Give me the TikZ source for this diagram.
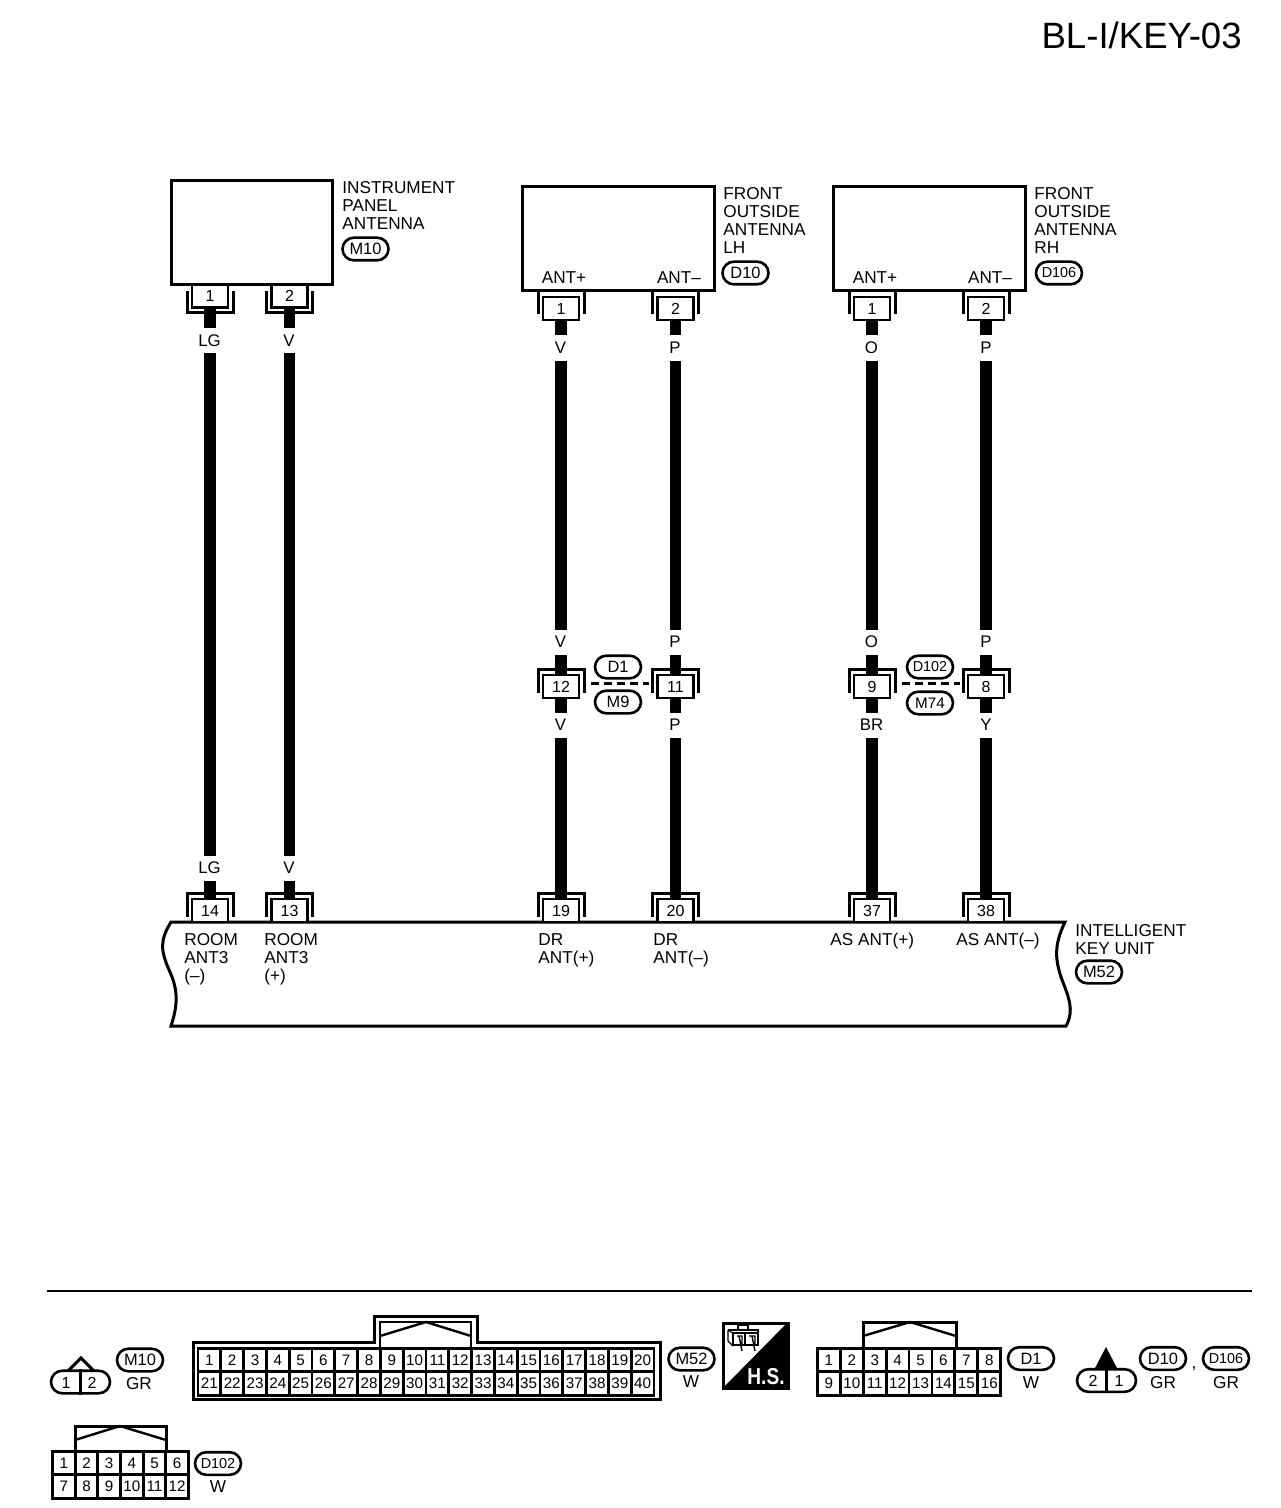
\documentclass[tikz,border=0pt]{standalone}
\usepackage{fontspec}
\setmainfont{Liberation Sans}
\usetikzlibrary{shapes.misc}
\tikzset{
  outline/.style={line width=1.5pt,line join=miter},
  thinline/.style={line width=1.2pt},
  wire/.style={line width=5.6pt},
  pinbox/.style={draw,line width=1.4pt,fill=white,inner sep=0pt,minimum width=18pt,minimum height=11.5pt,font=\fontsize{8}{9}\selectfont},
  cellbox/.style={draw,line width=1.4pt,fill=white,inner sep=0pt,minimum width=11.4pt,minimum height=11.8pt,font=\fontsize{7.6}{9}\selectfont},
  colour/.style={fill=white,inner sep=0pt,minimum width=14pt,minimum height=12.5pt,font=\fontsize{8.4}{9}\selectfont},
  lbl/.style={inner sep=0pt,anchor=north west,align=left,font=\fontsize{8.6}{9}\selectfont},
  lblc/.style={inner sep=0pt,font=\fontsize{8.6}{9}\selectfont},
  tag/.style={draw,rounded rectangle,line width=1.3pt,inner sep=0pt,minimum width=23pt,minimum height=11.3pt,font=\fontsize{8.2}{9}\selectfont},
  tagsmall/.style={tag,font=\fontsize{7.2}{9}\selectfont},
  plug/.style={draw,rounded rectangle,line width=1.3pt,inner sep=0pt,minimum width=29.5pt,minimum height=11.3pt},
  plugnum/.style={inner sep=0pt,font=\fontsize{8}{9}\selectfont},
  link/.style={line width=1.5pt,dash pattern=on 4pt off 2.4pt}
}
% pin hanging under a box, and pin with its shroud above it
\newcommand{\pindown}[4]{
  \node[pinbox] (#1) at (#2,#3) {#4};
  \draw[outline] ([shift={(-23,-5)}]#1.center) -- ++(0,22) -- ++(46,0) -- ++(0,-22);
}
\newcommand{\pinup}[4]{
  \node[pinbox] (#1) at (#2,#3) {#4};
  \draw[outline] ([shift={(-23,6)}]#1.center) -- ++(0,-23.5) -- ++(46,0) -- ++(0,23.5);
}
\begin{document}
\begin{tikzpicture}[x=0.5pt,y=-0.5pt]
\useasboundingbox (0,0) rectangle (1280,1508);
\node[inner sep=0pt,anchor=east,font=\fontsize{18.3}{20}\selectfont] (title) at (1242,35) {BL-I/KEY-03};

% antenna boxes
\node[draw,outline,minimum width=80.5pt,minimum height=52pt,inner sep=0pt] (m10box) at (251.5,233) {};
\node[draw,outline,minimum width=96pt,minimum height=52pt,inner sep=0pt] (d10box) at (618,239) {};
\node[draw,outline,minimum width=96pt,minimum height=52pt,inner sep=0pt] (d106box) at (929,239) {};
\node[lbl] (m10name) at (342,181) {INSTRUMENT\\PANEL\\ANTENNA};
\node[tag] (m10tag) at (365.5,249) {M10};
\node[lbl] (d10name) at (723,187) {FRONT\\OUTSIDE\\ANTENNA\\LH};
\node[tag] (d10tag) at (745.5,273) {D10};
\node[lbl] (d106name) at (1034,187) {FRONT\\OUTSIDE\\ANTENNA\\RH};
\node[tagsmall] (d106tag) at (1059,273) {D106};
\node[lblc] (d10plus) at (564,278) {ANT+};
\node[lblc] (d10minus) at (679,278) {ANT–};
\node[lblc] (d106plus) at (875,278) {ANT+};
\node[lblc] (d106minus) at (990,278) {ANT–};

% key unit
\draw[outline] (171,922) -- (1065,922) .. controls (1054,945) and (1054,960) .. (1064,985) .. controls (1072,1005) and (1072,1015) .. (1066,1026) -- (171,1026) .. controls (178,1005) and (178,990) .. (170,972) .. controls (160,950) and (160,940) .. (171,922) -- cycle;
\node[lbl] (m52name) at (1075,924) {INTELLIGENT\\KEY UNIT};
\node[tag] (m52tag) at (1099,972) {M52};
\node[lbl] (room1) at (184,933) {ROOM\\ANT3\\(–)};
\node[lbl] (room2) at (264,933) {ROOM\\ANT3\\(+)};
\node[lbl] (dr1) at (538,933) {DR\\ANT(+)};
\node[lbl] (dr2) at (653,933) {DR\\ANT(–)};
\node[lbl] (as1) at (830,933) {AS ANT(+)};
\node[lbl] (as2) at (956,933) {AS ANT(–)};

% pins
\pindown{a1}{210}{296}{1}
\pindown{a2}{289.5}{296}{2}
\pinup{b1}{561}{308.5}{1}
\pinup{b2}{675.5}{308.5}{2}
\pinup{c1}{872}{308.5}{1}
\pinup{c2}{986}{308.5}{2}
\pinup{j12}{561}{686.5}{12}
\pinup{j11}{675.5}{686.5}{11}
\pinup{j9}{872}{686.5}{9}
\pinup{j8}{986}{686.5}{8}
\pinup{u14}{210}{910.5}{14}
\pinup{u13}{289.5}{910.5}{13}
\pinup{u19}{561}{910.5}{19}
\pinup{u20}{675.5}{910.5}{20}
\pinup{u37}{872}{910.5}{37}
\pinup{u38}{986}{910.5}{38}

% wires
\draw[wire] (a1.south) -- (u14.north);
\draw[wire] (a2.south) -- (u13.north);
\draw[wire] (b1.south) -- (j12.north);
\draw[wire] (b2.south) -- (j11.north);
\draw[wire] (c1.south) -- (j9.north);
\draw[wire] (c2.south) -- (j8.north);
\draw[wire] (j12.south) -- (u19.north);
\draw[wire] (j11.south) -- (u20.north);
\draw[wire] (j9.south) -- (u37.north);
\draw[wire] (j8.south) -- (u38.north);

% wire colours
\node[colour] (w1) at (209.5,341) {LG};
\node[colour] (w2) at (289,341) {V};
\node[colour] (w3) at (209.5,868) {LG};
\node[colour] (w4) at (289,868) {V};
\node[colour] (w5) at (560.5,348) {V};
\node[colour] (w6) at (675,348) {P};
\node[colour] (w7) at (871.5,348) {O};
\node[colour] (w8) at (986,348) {P};
\node[colour] (w9) at (560.5,642) {V};
\node[colour] (w10) at (675,642) {P};
\node[colour] (w11) at (871.5,642) {O};
\node[colour] (w12) at (986,642) {P};
\node[colour] (w13) at (560.5,725) {V};
\node[colour] (w14) at (675,725) {P};
\node[colour] (w15) at (871.5,725) {BR};
\node[colour] (w16) at (986,725) {Y};

% junction links
\draw[link,shorten <=5.5pt,shorten >=3.5pt] ([yshift=1.5pt]j12.east) -- ([yshift=1.5pt]j11.west);
\draw[link,shorten <=5.5pt,shorten >=3.5pt] ([yshift=1.5pt]j9.east) -- ([yshift=1.5pt]j8.west);
\node[tag] (d1tag) at (618,667) {D1};
\node[tag] (m9tag) at (618,702) {M9};
\node[tagsmall] (d102tag) at (930,667) {D102};
\node[tag,font=\fontsize{7.6}{9}\selectfont] (m74tag) at (930,703) {M74};

% bottom row
\draw[line width=1pt] (47,1291) -- (1252,1291);

\draw[outline] (68,1371) -- (81,1358) -- (94,1371);
\node[plug,fill=white] (m10plug) at (80.5,1382) {};
\draw[thinline] (m10plug.north) -- (m10plug.south);
\node[plugnum] (m10n1) at (66,1382.5) {1};
\node[plugnum] (m10n2) at (92,1382.5) {2};
\node[tag] (m10key) at (140,1360) {M10};
\node[lblc] (m10col) at (139,1384) {GR};

\draw[outline] (193,1342) rectangle (660,1399);
\draw[draw=white,line width=2pt] (375.5,1342) -- (475.5,1342);
\draw[outline] (374,1343) -- (374,1316) -- (477,1316) -- (477,1343);
\draw[thinline] (380,1348) -- (380,1322) -- (471,1322) -- (471,1348);
\draw[thinline] (380,1336) -- (426,1322) -- (471,1336);
\foreach \n in {1,...,20}
  \node[cellbox] (ma\n) at ({198+22.8*(\n-0.5)},1360) {\n};
\foreach \n in {21,...,40}
  \node[cellbox] (ma\n) at ({198+22.8*(\n-20.5)},1383.5) {\n};
\node[tag] (m52key) at (691.5,1359) {M52};
\node[lblc] (m52col) at (691,1382) {W};

% service data mark
\draw[outline] (723,1323) rectangle (788,1388);
\fill (788,1322) -- (788,1389) -- (722,1389) -- cycle;
\node[inner sep=0pt,text=white,font=\bfseries\fontsize{11.5}{12}\selectfont] (hs) at (766,1376.5) {\scalebox{.83}[1]{H.S.}};
\draw[line width=.6pt] (738,1329) -- (738,1325) -- (748,1325) -- (748,1329);
\draw[line width=.6pt] (728,1330) -- (758,1330) -- (758,1345) -- (733,1345) -- (733,1333) -- (758,1333);
\draw[line width=.6pt] (728,1330) -- (733,1333) (728,1330) -- (728,1341) -- (733,1346);
\draw[line width=.6pt] (745,1333) -- (745,1345);
\draw[line width=.7pt] (737,1336) -- (742,1336) -- (742,1345) (739,1336) -- (742,1351);
\draw[line width=.7pt] (749,1336) -- (755,1336) -- (755,1345) (752,1336) -- (755,1351);

\draw[outline] (863,1349) -- (863,1322) -- (956,1322) -- (956,1349);
\draw[thinline] (863,1336) -- (910,1322) -- (956,1336);
\foreach \n in {1,...,8}
  \node[cellbox,minimum width=11.5pt] (da\n) at ({817.5+22.9*(\n-0.5)},1360) {\n};
\foreach \n in {9,...,16}
  \node[cellbox,minimum width=11.5pt] (da\n) at ({817.5+22.9*(\n-8.5)},1383.5) {\n};
\node[tag] (d1key) at (1031,1358.5) {D1};
\node[lblc] (d1col) at (1031,1383) {W};

\fill (1106,1347) -- (1118,1370) -- (1094,1370) -- cycle;
\node[plug,fill=white] (d10plug) at (1106.5,1380.5) {};
\draw[thinline] (d10plug.north) -- (d10plug.south);
\node[plugnum] (d10n2) at (1093,1381) {2};
\node[plugnum] (d10n1) at (1119,1381) {1};
\node[tag] (d10key) at (1163,1358.5) {D10};
\node[lblc] (d10col) at (1163,1383) {GR};
\node[lblc] (comma) at (1194,1369) {,};
\node[tagsmall] (d106key) at (1226,1358.5) {D106};
\node[lblc] (d106col) at (1226,1383) {GR};

\draw[outline] (75,1453) -- (75,1426) -- (166,1426) -- (166,1453);
\draw[thinline] (75,1440) -- (120,1426) -- (166,1440);
\foreach \n in {1,...,6}
  \node[cellbox] (ea\n) at ({52.5+22.67*(\n-0.5)},1463) {\n};
\foreach \n in {7,...,12}
  \node[cellbox] (ea\n) at ({52.5+22.67*(\n-6.5)},1486.5) {\n};
\node[tagsmall] (d102key) at (218,1463.5) {D102};
\node[lblc] (d102col) at (218,1487) {W};
\end{tikzpicture}
\end{document}
